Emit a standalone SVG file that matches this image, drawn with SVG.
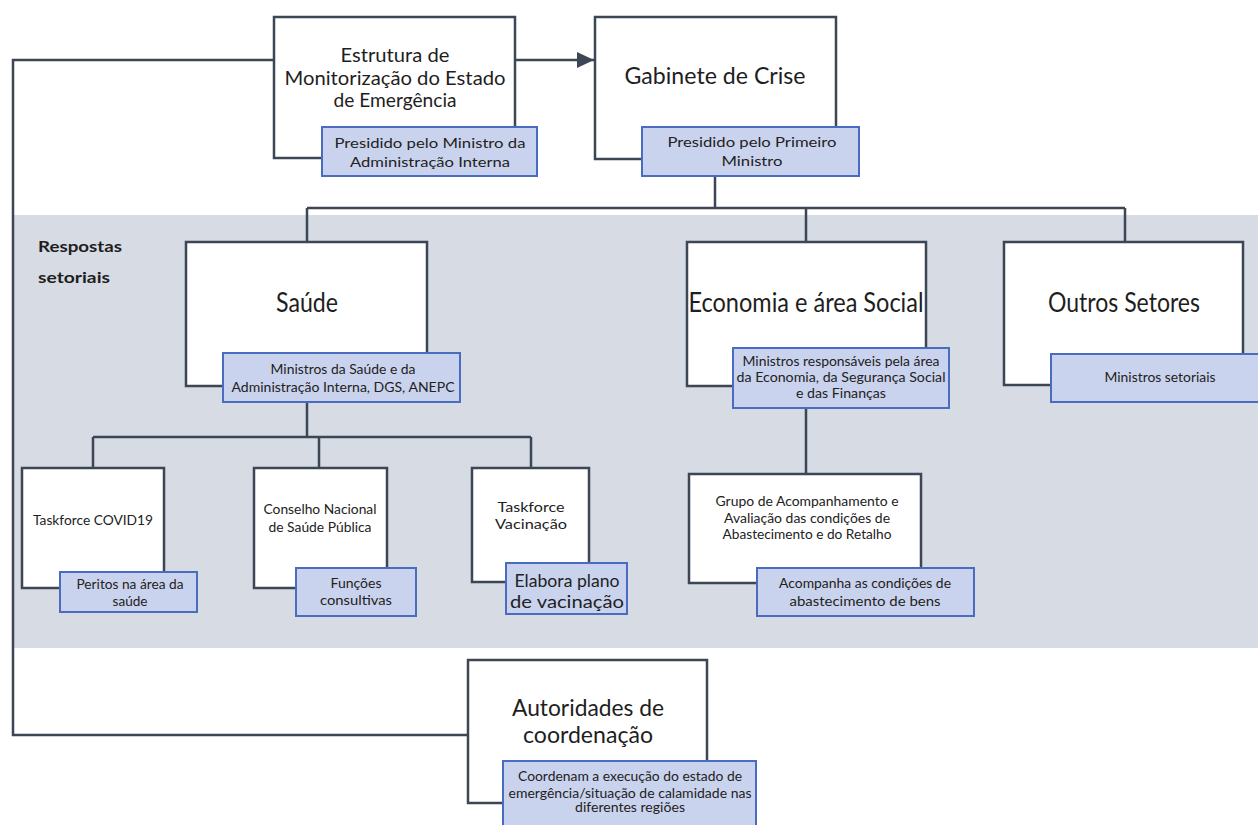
<svg xmlns="http://www.w3.org/2000/svg" width="1258" height="825" viewBox="0 0 1258 825">
<style>
.box{fill:#ffffff;stroke:#3d4654;stroke-width:2.5}
.sub{fill:#cad3ed;stroke:#4a6cc0;stroke-width:2}
.conn{fill:none;stroke:#3d4654;stroke-width:2.5}
text{font-family:Lato,"Liberation Sans",sans-serif;fill:#1e1e1e;text-anchor:middle}
.t{font-size:24px}
.m{font-size:20px}
.s{font-size:13px;fill:#222}
.n{font-size:13px;fill:#222}
.lbl{font-size:15px;font-weight:bold;text-anchor:start}
</style>
<defs>
<marker id="arr" markerUnits="userSpaceOnUse" markerWidth="18" markerHeight="16" refX="17" refY="8" orient="auto">
<path d="M0,0 L17,8 L0,16 Z" fill="#3d4654"/>
</marker>
</defs>
<rect id="band" x="13" y="215" width="1245" height="433" fill="#d6dbe4"/>
<g id="connectors">
<path class="conn" d="M274 60 H13 V735 H468"/>
<path class="conn" d="M515 60 H594" marker-end="url(#arr)"/>
<path class="conn" d="M715 176 V208 M307 208 H1125 M307 208 V242 M806 208 V242 M1125 208 V242"/>
<path class="conn" d="M307 402 V437 M93 437 H531 M93 437 V468 M319 437 V468 M531 437 V468"/>
<path class="conn" d="M806 408 V474"/>
</g>
<g id="label-respostas">
<text class="lbl" x="38" y="252" textLength="84" lengthAdjust="spacingAndGlyphs">Respostas</text>
<text class="lbl" x="38" y="283" textLength="72" lengthAdjust="spacingAndGlyphs">setoriais</text>
</g>
<g id="estrutura">
<rect class="box" x="274" y="17" width="241" height="141"/>
<text class="m" x="395" y="62" textLength="109" lengthAdjust="spacingAndGlyphs">Estrutura de</text>
<text class="m" x="395" y="85" textLength="221" lengthAdjust="spacingAndGlyphs">Monitorização do Estado</text>
<text class="m" x="395" y="107" textLength="123" lengthAdjust="spacingAndGlyphs">de Emergência</text>
<rect class="sub" x="322" y="127" width="215" height="49"/>
<text class="s" x="430" y="148" textLength="191" lengthAdjust="spacingAndGlyphs">Presidido pelo Ministro da</text>
<text class="s" x="430" y="167" textLength="160" lengthAdjust="spacingAndGlyphs">Administração Interna</text>
</g>
<g id="gabinete">
<rect class="box" x="595" y="17" width="241" height="142"/>
<text class="t" x="715" y="84" textLength="181" lengthAdjust="spacingAndGlyphs">Gabinete de Crise</text>
<rect class="sub" x="642" y="127" width="217" height="49"/>
<text class="s" x="752" y="147" textLength="169" lengthAdjust="spacingAndGlyphs">Presidido pelo Primeiro</text>
<text class="s" x="752" y="166" textLength="61" lengthAdjust="spacingAndGlyphs">Ministro</text>
</g>
<g id="saude">
<rect class="box" x="186" y="242" width="241" height="144"/>
<text class="t" x="307" y="312" style="font-size:26px" textLength="62" lengthAdjust="spacingAndGlyphs">Saúde</text>
<rect class="sub" x="223" y="353" width="237" height="49"/>
<text class="n" x="343" y="374" textLength="145" lengthAdjust="spacingAndGlyphs">Ministros da Saúde e da</text>
<text class="n" x="343" y="392" textLength="223" lengthAdjust="spacingAndGlyphs">Administração Interna, DGS, ANEPC</text>
</g>
<g id="economia">
<rect class="box" x="687" y="242" width="239" height="144"/>
<text class="t" x="806" y="312" style="font-size:26px" textLength="235" lengthAdjust="spacingAndGlyphs">Economia e área Social</text>
<rect class="sub" x="733" y="348" width="216" height="60"/>
<text class="n" x="841" y="366" textLength="197" lengthAdjust="spacingAndGlyphs">Ministros responsáveis pela área</text>
<text class="n" x="841" y="382" textLength="209" lengthAdjust="spacingAndGlyphs">da Economia, da Segurança Social</text>
<text class="n" x="841" y="398" textLength="90" lengthAdjust="spacingAndGlyphs">e das Finanças</text>
</g>
<g id="outros">
<rect class="box" x="1004" y="242" width="239" height="143"/>
<text class="t" x="1124" y="312" style="font-size:26px" textLength="152" lengthAdjust="spacingAndGlyphs">Outros Setores</text>
<rect class="sub" x="1051" y="354" width="210" height="48"/>
<text class="n" x="1160" y="382" textLength="111" lengthAdjust="spacingAndGlyphs">Ministros setoriais</text>
</g>
<g id="taskforce-covid">
<rect class="box" x="22" y="468" width="142" height="120"/>
<text class="n" x="93" y="525" textLength="120" lengthAdjust="spacingAndGlyphs">Taskforce COVID19</text>
<rect class="sub" x="60" y="572" width="137" height="40"/>
<text class="n" x="130" y="589" textLength="107" lengthAdjust="spacingAndGlyphs">Peritos na área da</text>
<text class="n" x="130" y="606" textLength="35" lengthAdjust="spacingAndGlyphs">saúde</text>
</g>
<g id="conselho">
<rect class="box" x="254" y="468" width="133" height="120"/>
<text class="n" x="320" y="514" textLength="113" lengthAdjust="spacingAndGlyphs">Conselho Nacional</text>
<text class="n" x="320" y="532" textLength="103" lengthAdjust="spacingAndGlyphs">de Saúde Pública</text>
<rect class="sub" x="296" y="568" width="120" height="48"/>
<text class="n" x="356" y="588" textLength="51" lengthAdjust="spacingAndGlyphs">Funções</text>
<text class="n" x="356" y="605" textLength="72" lengthAdjust="spacingAndGlyphs">consultivas</text>
</g>
<g id="taskforce-vacinacao">
<rect class="box" x="472" y="468" width="117" height="114"/>
<text class="n" x="531" y="512" textLength="67" lengthAdjust="spacingAndGlyphs">Taskforce</text>
<text class="n" x="531" y="529" textLength="72" lengthAdjust="spacingAndGlyphs">Vacinação</text>
<rect class="sub" x="506" y="563" width="121" height="51"/>
<text class="n" x="567" y="587" style="font-size:18px" textLength="105" lengthAdjust="spacingAndGlyphs">Elabora plano</text>
<text class="n" x="567" y="608" style="font-size:18px" textLength="114" lengthAdjust="spacingAndGlyphs">de vacinação</text>
</g>
<g id="grupo">
<rect class="box" x="689" y="474" width="232" height="109"/>
<text class="n" x="807" y="506" textLength="183" lengthAdjust="spacingAndGlyphs">Grupo de Acompanhamento e</text>
<text class="n" x="807" y="523" textLength="166" lengthAdjust="spacingAndGlyphs">Avaliação das condições de</text>
<text class="n" x="807" y="539" textLength="169" lengthAdjust="spacingAndGlyphs">Abastecimento e do Retalho</text>
<rect class="sub" x="757" y="568" width="217" height="48"/>
<text class="n" x="865" y="588" textLength="172" lengthAdjust="spacingAndGlyphs">Acompanha as condições de</text>
<text class="n" x="865" y="606" textLength="151" lengthAdjust="spacingAndGlyphs">abastecimento de bens</text>
</g>
<g id="autoridades">
<rect class="box" x="468" y="660" width="239" height="143"/>
<text class="t" x="588" y="716" textLength="152" lengthAdjust="spacingAndGlyphs">Autoridades de</text>
<text class="t" x="588" y="743" textLength="130" lengthAdjust="spacingAndGlyphs">coordenação</text>
<rect class="sub" x="503" y="761" width="253" height="70"/>
<text class="n" x="630" y="781" textLength="224" lengthAdjust="spacingAndGlyphs">Coordenam a execução do estado de</text>
<text class="n" x="630" y="798" textLength="243" lengthAdjust="spacingAndGlyphs">emergência/situação de calamidade nas</text>
<text class="n" x="630" y="812" textLength="110" lengthAdjust="spacingAndGlyphs">diferentes regiões</text>
</g>
</svg>
